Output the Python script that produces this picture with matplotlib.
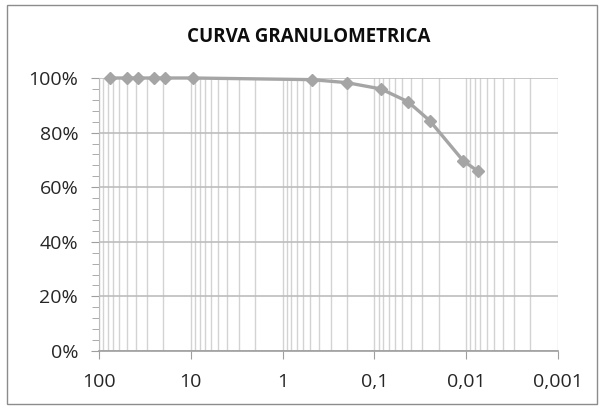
import numpy as np
import matplotlib.pyplot as plt
from matplotlib.patches import Rectangle
from matplotlib.ticker import FixedLocator, LogLocator, MultipleLocator, NullFormatter

# grain size (mm) and percent passing
sizes = [75, 50, 37.5, 25, 19, 9.5, 0.48, 0.2, 0.085, 0.043, 0.025, 0.0108, 0.0075]
passing = [100, 100, 100, 100, 100, 100, 99.4, 98.3, 96.0, 91.3, 84.4, 69.7, 65.9]

x_ticks = [100, 10, 1, 0.1, 0.01, 0.001]
x_labels = ["100", "10", "1", "0,1", "0,01", "0,001"]
y_ticks = [0, 20, 40, 60, 80, 100]
y_labels = ["0%", "20%", "40%", "60%", "80%", "100%"]

plt.rcParams['font.family'] = ['Open Sans', 'DejaVu Sans']

fig = plt.figure(figsize=(6.03, 4.08), dpi=100)
ax = fig.add_axes([99 / 603, 1 - 351 / 408, (558 - 99) / 603, (351 - 78) / 408])

ax.set_xscale('log')
ax.set_xlim(100, 0.001)
ax.set_ylim(0, 100)

ax.xaxis.set_major_locator(FixedLocator(x_ticks))
ax.set_xticklabels(x_labels)
ax.xaxis.set_minor_locator(LogLocator(base=10, subs=np.arange(2, 10)))
ax.xaxis.set_minor_formatter(NullFormatter())

ax.set_yticks(y_ticks)
ax.set_yticklabels(y_labels)
ax.yaxis.set_minor_locator(MultipleLocator(4))

ax.grid(True, axis='x', which='both', color='#D3D3D3', linewidth=1.0)
ax.grid(True, axis='y', which='major', color='#BDBDBD', linewidth=1.2)
ax.set_axisbelow(True)

for s in ['top', 'right']:
    ax.spines[s].set_visible(False)
ax.spines['left'].set_color('#BDBDBD')
ax.spines['bottom'].set_color('#9E9E9E')
ax.spines['bottom'].set_linewidth(1.2)

ax.tick_params(axis='both', which='major', labelsize=14, colors='#9E9E9E',
               labelcolor='#262626', length=6)
ax.tick_params(axis='x', which='major', pad=10)
ax.tick_params(axis='y', which='major', pad=9)
ax.tick_params(axis='x', which='minor', length=0)
ax.tick_params(axis='y', which='minor', length=5, colors='#9E9E9E')

ax.plot(sizes, passing, color='#A5A5A5', linewidth=2.4, marker='D',
        markersize=6.5, clip_on=False, zorder=5)

fig.text(309 / 603, 1 - 37 / 408, "CURVA GRANULOMETRICA", ha='center', va='center',
         fontsize=13.5, fontweight='bold', color='#0D0D0D')

fig.patches.append(Rectangle((7 / 603, 4 / 408), 590 / 603, 399 / 408,
                             transform=fig.transFigure, fill=False,
                             edgecolor='#8C8C8C', linewidth=1.0))

fig.savefig('out.png', dpi=100)
